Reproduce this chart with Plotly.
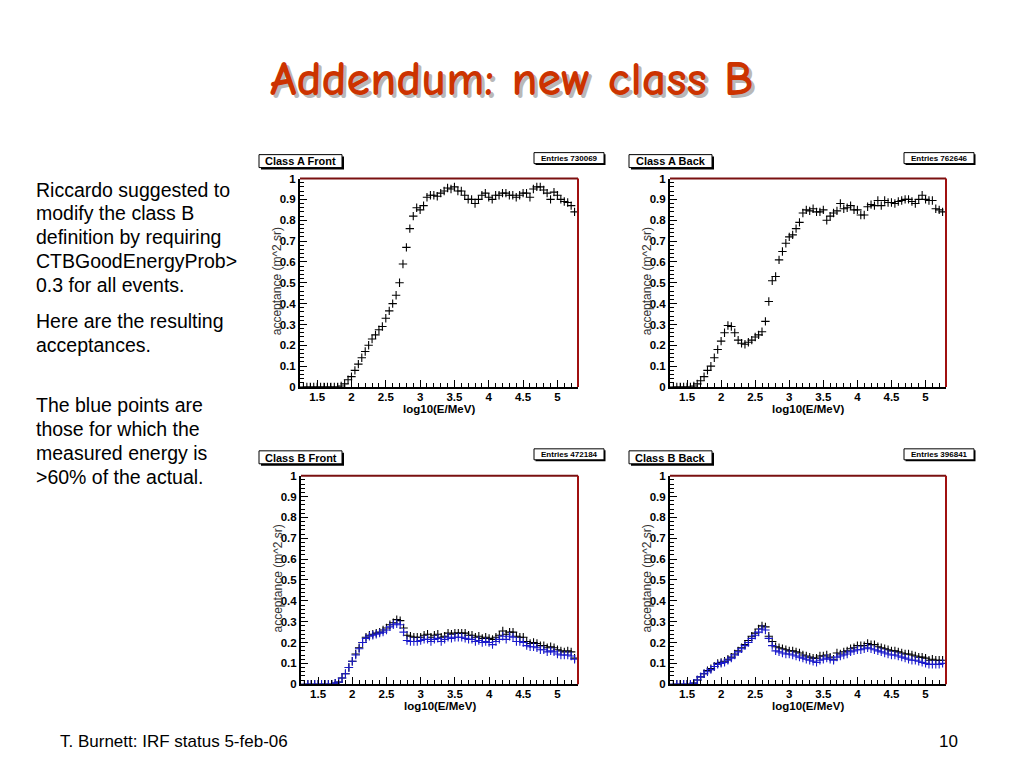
import plotly.graph_objects as go

W, H = 1024, 768
OFF_X = 8        # page body margin of the rendered html (horizontal)
OFF_Y = 12       # observed vertical offset of the rendered page
SCALE_Y = 0.987  # observed vertical scale of the rendered page

# ---------------- data ----------------
log_e = [1.30, 1.35, 1.40, 1.45, 1.50, 1.55, 1.60, 1.65, 1.70, 1.75,
         1.80, 1.85, 1.90, 1.95, 2.00, 2.05, 2.10, 2.15, 2.20, 2.25,
         2.30, 2.35, 2.40, 2.45, 2.50, 2.55, 2.60, 2.65, 2.70, 2.75,
         2.80, 2.85, 2.90, 2.95, 3.00, 3.05, 3.10, 3.15, 3.20, 3.25,
         3.30, 3.35, 3.40, 3.45, 3.50, 3.55, 3.60, 3.65, 3.70, 3.75,
         3.80, 3.85, 3.90, 3.95, 4.00, 4.05, 4.10, 4.15, 4.20, 4.25,
         4.30, 4.35, 4.40, 4.45, 4.50, 4.55, 4.60, 4.65, 4.70, 4.75,
         4.80, 4.85, 4.90, 4.95, 5.00, 5.05, 5.10, 5.15, 5.20, 5.25]

class_a_front = [0, 0, 0, 0, 0, 0, 0, 0, 0, 0, 0,
                 0.005, 0.015, 0.035, 0.05, 0.08, 0.11, 0.14, 0.17, 0.20, 0.23,
                 0.25, 0.275, 0.29, 0.33, 0.365, 0.40, 0.44, 0.50, 0.59, 0.67,
                 0.76, 0.82, 0.86, 0.85, 0.87, 0.91, 0.92, 0.92, 0.915, 0.93,
                 0.94, 0.955, 0.95, 0.96, 0.94, 0.94, 0.92, 0.90, 0.90, 0.88,
                 0.90, 0.92, 0.93, 0.91, 0.90, 0.92, 0.92, 0.93, 0.93, 0.92,
                 0.92, 0.91, 0.92, 0.93, 0.93, 0.91, 0.95, 0.96, 0.96, 0.945,
                 0.93, 0.90, 0.935, 0.92, 0.90, 0.89, 0.885, 0.87, 0.84]

class_a_back = [0, 0, 0, 0, 0, 0,
                0.005, 0.015, 0.03, 0.05, 0.08, 0.10, 0.14, 0.18, 0.22, 0.26,
                0.295, 0.29, 0.26, 0.225, 0.21, 0.205, 0.215, 0.225, 0.24, 0.25,
                0.265, 0.315, 0.41, 0.51, 0.53, 0.61, 0.65, 0.69, 0.72, 0.73,
                0.76, 0.79, 0.835, 0.85, 0.845, 0.855, 0.84, 0.84, 0.85, 0.80,
                0.82, 0.835, 0.845, 0.88, 0.855, 0.86, 0.87, 0.85, 0.85, 0.825,
                0.825, 0.865, 0.875, 0.87, 0.895, 0.87, 0.895, 0.885, 0.885, 0.88,
                0.89, 0.895, 0.90, 0.90, 0.89, 0.88, 0.90, 0.92, 0.90, 0.895,
                0.895, 0.855, 0.85, 0.84]

class_b_front = [0, 0, 0, 0, 0, 0, 0, 0, 0,
                 0.005, 0.01, 0.03, 0.05, 0.08, 0.11, 0.145, 0.175, 0.20, 0.225,
                 0.235, 0.24, 0.245, 0.25, 0.26, 0.27, 0.285, 0.295, 0.31, 0.305,
                 0.27, 0.235, 0.23, 0.225, 0.225, 0.225, 0.235, 0.24, 0.225, 0.235,
                 0.24, 0.225, 0.23, 0.245, 0.24, 0.245, 0.245, 0.245, 0.245, 0.235,
                 0.235, 0.225, 0.23, 0.22, 0.225, 0.22, 0.215, 0.225, 0.235, 0.255,
                 0.24, 0.25, 0.25, 0.23, 0.225, 0.225, 0.205, 0.195, 0.20, 0.195,
                 0.185, 0.185, 0.175, 0.18, 0.175, 0.165, 0.16, 0.155, 0.16, 0.155,
                 0.125]

class_b_front_good = [0, 0, 0, 0, 0, 0, 0, 0, 0,
                      0.005, 0.01, 0.03, 0.05, 0.08, 0.11, 0.14, 0.17, 0.20, 0.22,
                      0.23, 0.235, 0.24, 0.245, 0.25, 0.26, 0.275, 0.285, 0.29, 0.285,
                      0.25, 0.21, 0.205, 0.205, 0.205, 0.21, 0.215, 0.215, 0.205, 0.215,
                      0.22, 0.205, 0.215, 0.225, 0.22, 0.225, 0.225, 0.225, 0.22, 0.215,
                      0.215, 0.205, 0.21, 0.20, 0.205, 0.20, 0.19, 0.205, 0.215, 0.23,
                      0.215, 0.23, 0.225, 0.205, 0.205, 0.20, 0.185, 0.18, 0.18, 0.175,
                      0.165, 0.165, 0.155, 0.16, 0.155, 0.145, 0.14, 0.14, 0.14, 0.135,
                      0.12]

class_b_back = [0, 0, 0, 0, 0, 0,
                0.005, 0.02, 0.035, 0.05, 0.065, 0.075, 0.085, 0.10, 0.105, 0.11,
                0.12, 0.13, 0.145, 0.16, 0.175, 0.19, 0.21, 0.23, 0.245, 0.265,
                0.28, 0.275, 0.23, 0.205, 0.18, 0.175, 0.17, 0.165, 0.16, 0.16,
                0.155, 0.15, 0.14, 0.135, 0.13, 0.125, 0.125, 0.135, 0.135, 0.14,
                0.13, 0.12, 0.15, 0.145, 0.155, 0.16, 0.17, 0.175, 0.185, 0.185,
                0.185, 0.195, 0.19, 0.19, 0.18, 0.175, 0.17, 0.165, 0.16, 0.16,
                0.155, 0.15, 0.145, 0.145, 0.14, 0.135, 0.13, 0.13, 0.125, 0.115,
                0.12, 0.115, 0.115, 0.115]

class_b_back_good = [0, 0, 0, 0, 0, 0,
                     0.005, 0.02, 0.035, 0.05, 0.06, 0.07, 0.085, 0.095, 0.10, 0.105,
                     0.115, 0.125, 0.14, 0.155, 0.17, 0.185, 0.20, 0.22, 0.235, 0.25,
                     0.265, 0.26, 0.22, 0.185, 0.16, 0.155, 0.15, 0.145, 0.145, 0.14,
                     0.135, 0.13, 0.125, 0.12, 0.115, 0.11, 0.105, 0.115, 0.12, 0.125,
                     0.12, 0.115, 0.13, 0.135, 0.14, 0.145, 0.155, 0.16, 0.165, 0.165,
                     0.17, 0.175, 0.17, 0.165, 0.16, 0.155, 0.15, 0.145, 0.14, 0.14,
                     0.135, 0.13, 0.125, 0.12, 0.115, 0.115, 0.11, 0.105, 0.10, 0.095,
                     0.095, 0.095, 0.095, 0.10]

panel_titles = ["Class A Front", "Class A Back", "Class B Front", "Class B Back"]
panel_entries = ["Entries 730069", "Entries 762646", "Entries 472184", "Entries 396841"]
x_title = "log10(E/MeV)"
y_title = "acceptance (m^2 sr)"

slide_title = "Addendum: new class B"
body_lines_1 = ["Riccardo suggested to", "modify the class B", "definition by requiring",
                "CTBGoodEnergyProb>", "0.3 for all events."]
body_lines_2 = ["Here are the resulting", "acceptances."]
body_lines_3 = ["The blue points are", "those for which the", "measured energy is",
                ">60% of the actual."]
footer_left = "T. Burnett: IRF status 5-feb-06"
footer_right = "10"

# ---------------- layout helpers ----------------
def px(x):
    return (x - OFF_X) / W

def py(y):
    return 1 - ((y - OFF_Y) / SCALE_Y) / H

# plot-area pixel boxes: (left, right, top, bottom)
boxes = [(300, 578, 177, 386), (670, 946, 177, 386),
         (301, 578, 475, 684), (670, 946, 475, 684)]
# title-box / entries-box pixel positions (left, top)
title_box_pos = [(259, 153), (629, 153), (259, 450), (629, 450)]
entries_box_pos = [(534, 151), (904, 151), (534, 448), (904, 448)]

series = [
    [(class_a_front, "black")],
    [(class_a_back, "black")],
    [(class_b_front, "black"), (class_b_front_good, "#1a1acc")],
    [(class_b_back, "black"), (class_b_back_good, "#1a1acc")],
]

fig = go.Figure()
shapes = []
annotations = []
FONT = "Liberation Sans, Arial"
tick_font = dict(family=FONT, size=11.5, color="black", weight="bold")


def note(text, x, y, size, color="black", xa="center", ya="middle", **kw):
    font = dict(family=kw.pop("family", FONT), size=size, color=color)
    if kw.pop("bold", False):
        font["weight"] = "bold"
    annotations.append(dict(text=text, xref="paper", yref="paper", x=px(x), y=py(y),
                            xanchor=xa, yanchor=ya, showarrow=False, font=font, **kw))


for i in range(4):
    n = "" if i == 0 else str(i + 1)
    xa, ya = "x" + n, "y" + n
    l, r, t, b = boxes[i]
    for vals, col in series[i]:
        fig.add_trace(go.Scatter(
            x=log_e, y=vals, xaxis=xa, yaxis=ya, mode="markers",
            marker=dict(symbol="cross-thin", size=6, color=col,
                        line=dict(width=1.1, color=col)),
            showlegend=False, hoverinfo="x+y"))
    fig.layout["xaxis" + n] = dict(
        domain=[px(l), px(r)], anchor=ya, range=[1.25, 5.3],
        tick0=0, dtick=0.5, ticks="inside", ticklen=7, tickwidth=1.2, tickcolor="black",
        minor=dict(dtick=0.1, ticks="inside", ticklen=4, tickcolor="black", tickwidth=1),
        showline=True, linecolor="black", linewidth=2, showgrid=False, zeroline=False,
        tickfont=tick_font, ticklabelstandoff=-2, fixedrange=True)
    fig.layout["yaxis" + n] = dict(
        domain=[py(b), py(t)], anchor=xa, range=[0, 1],
        tick0=0, dtick=0.1, ticks="inside", ticklen=7, tickwidth=1.2, tickcolor="black",
        minor=dict(dtick=0.02, ticks="inside", ticklen=4, tickcolor="black", tickwidth=1),
        showline=True, linecolor="black", linewidth=2, showgrid=False, zeroline=False,
        tickfont=tick_font, fixedrange=True)
    # dark red frame top/right
    shapes.append(dict(type="line", xref="paper", yref="paper",
                       x0=px(l), x1=px(r), y0=py(t), y1=py(t),
                       line=dict(color="#7a1010", width=2)))
    shapes.append(dict(type="line", xref="paper", yref="paper",
                       x0=px(r), x1=px(r), y0=py(t), y1=py(b),
                       line=dict(color="#a01010", width=2)))
    # axis titles
    note(x_title, (l + r) / 2, b + 22, 11.5, bold=True)
    note(y_title, l - 23, t + 103, 12, color="#333333", textangle=-90)
    # panel title box with shadow
    tx, ty = title_box_pos[i]
    shapes.append(dict(type="rect", xref="paper", yref="paper",
                       x0=px(tx + 2), x1=px(tx + 85), y0=py(ty + 15), y1=py(ty + 2),
                       fillcolor="black", line=dict(width=0)))
    shapes.append(dict(type="rect", xref="paper", yref="paper",
                       x0=px(tx), x1=px(tx + 83), y0=py(ty + 13), y1=py(ty),
                       fillcolor="white", line=dict(color="black", width=1)))
    note(panel_titles[i], tx + 41.5, ty + 6.8, 11, bold=True)
    # entries box
    ex, ey = entries_box_pos[i]
    shapes.append(dict(type="rect", xref="paper", yref="paper",
                       x0=px(ex + 1.5), x1=px(ex + 71.5), y0=py(ey + 12.5), y1=py(ey + 1.5),
                       fillcolor="black", line=dict(width=0)))
    shapes.append(dict(type="rect", xref="paper", yref="paper",
                       x0=px(ex), x1=px(ex + 70), y0=py(ey + 11), y1=py(ey),
                       fillcolor="white", line=dict(color="black", width=1)))
    note(panel_entries[i], ex + 35, ey + 5.8, 8, bold=True)

# slide title with shadow
title_font = "Comic Sans MS, Comic Neue, Lato"
note(slide_title, 514, 81, 48, color="#b8b8b8", family=title_font, bold=True)
note(slide_title, 511, 78, 48, color="#cc3300", family=title_font, bold=True)


def add_lines(lines, y0):
    for k, s in enumerate(lines):
        note(s, 34, y0 + 24 * k, 19.5, xa="left")


add_lines(body_lines_1, 188)
add_lines(body_lines_2, 320)
add_lines(body_lines_3, 404)

note(footer_left, 58, 741, 17, xa="left")
note(footer_right, 960, 741, 17, xa="right")

fig.update_layout(width=W, height=H, margin=dict(l=0, r=0, t=0, b=0),
                  paper_bgcolor="white", plot_bgcolor="white",
                  shapes=shapes, annotations=annotations, showlegend=False)

fig.write_html("out.html", config={"displayModeBar": False})
